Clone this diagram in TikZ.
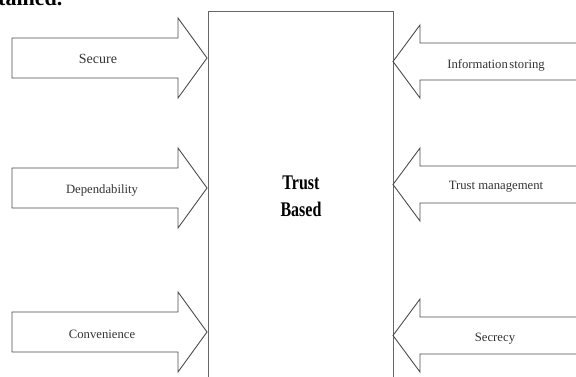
\documentclass[tikz,border=0pt]{standalone}
\usepackage{fontspec}
\setmainfont{Liberation Serif}
\usepackage{graphicx}
\begin{document}
\begin{tikzpicture}[x=1pt,y=-1pt,
  shapeline/.style={draw=black!70, line width=0.9pt, line join=miter},
  lbl/.style={inner sep=0pt, font=\fontsize{12.7}{15}\selectfont, text=black!80},
  centrebox/.style={draw=black!60, line width=0.9pt, minimum width=185pt, minimum height=369pt, inner sep=0pt, anchor=north west, align=center, font=\fontsize{16}{27}\selectfont\bfseries}
]
\useasboundingbox (0,0) rectangle (576,376);
\clip (0,0) rectangle (576,376);
% cut-off heading text
\node[anchor=base west, inner sep=0pt, font=\fontsize{22}{26}\selectfont\bfseries] (head) at (-2,5) {tained.};
% central box
\node[centrebox] (box) at (208,11) {\scalebox{1}[1.3]{Trust}\\\scalebox{1}[1.3]{Based}};
% left arrows
\draw[shapeline] (12,38) -- (178,38) -- (178,18) -- (207,58) -- (178,98) -- (178,78) -- (12,78) -- cycle;
\draw[shapeline] (12,168) -- (178,168) -- (178,148) -- (207,188) -- (178,228) -- (178,208) -- (12,208) -- cycle;
\draw[shapeline] (12,312) -- (178,312) -- (178,292) -- (207,332) -- (178,372) -- (178,352) -- (12,352) -- cycle;
% right arrows
\draw[shapeline] (585,43) -- (420,43) -- (420,25) -- (393,61.5) -- (420,98) -- (420,80) -- (585,80) -- cycle;
\draw[shapeline] (585,166) -- (420,166) -- (420,148) -- (393,184.5) -- (420,221) -- (420,203) -- (585,203) -- cycle;
\draw[shapeline] (585,317) -- (420,317) -- (420,299) -- (393,335.5) -- (420,372) -- (420,354) -- (585,354) -- cycle;
% labels
\node[lbl, font=\fontsize{14}{16}\selectfont] (secure) at (98,59) {Secure};
\node[lbl] (dep) at (102,190) {Dependability};
\node[lbl] (conv) at (102,334) {Convenience};
\node[lbl] (info) at (496,65) {Information\hspace{0.12em}storing};
\node[lbl] (tm) at (496,187) {Trust management};
\node[lbl] (secr) at (495,339) {Secrecy};
\end{tikzpicture}
\end{document}
